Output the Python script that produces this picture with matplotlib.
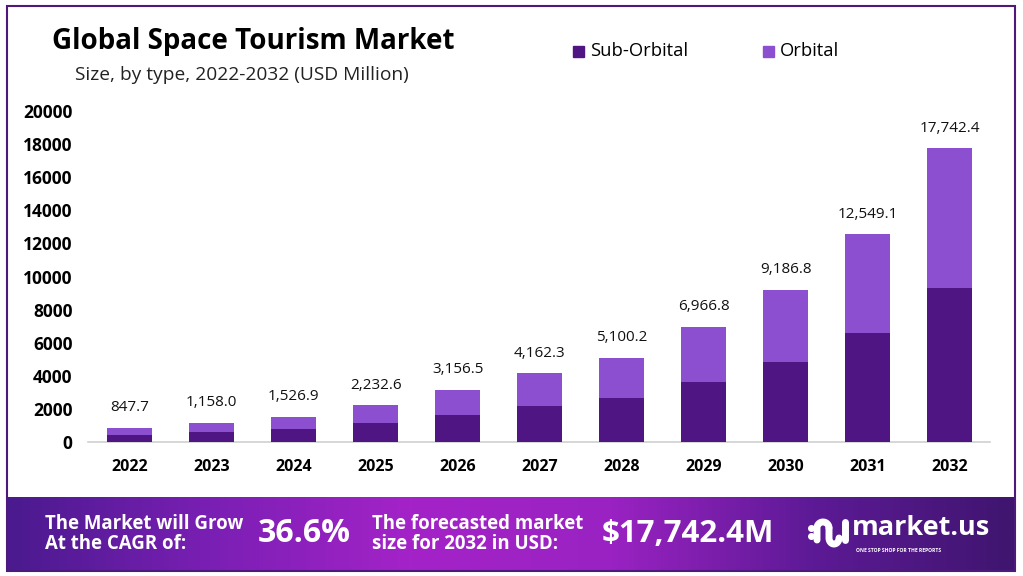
import numpy as np
import matplotlib.pyplot as plt
from matplotlib.patches import Rectangle
from matplotlib.colors import LinearSegmentedColormap

years = ["2022", "2023", "2024", "2025", "2026", "2027", "2028", "2029", "2030", "2031", "2032"]
totals = [847.7, 1158.0, 1526.9, 2232.6, 3156.5, 4162.3, 5100.2, 6966.8, 9186.8, 12549.1, 17742.4]
sub_orbital = [440, 605, 785, 1150, 1650, 2155, 2660, 3605, 4815, 6595, 9320]
orbital = [t - s for t, s in zip(totals, sub_orbital)]
yticks = [0, 2000, 4000, 6000, 8000, 10000, 12000, 14000, 16000, 18000, 20000]

c_sub = "#4e1583"
c_orb = "#8c4fd0"
W, H = 1023, 576

fig = plt.figure(figsize=(10.23, 5.76), dpi=100)
fig.patch.set_facecolor("white")

# outer frame
fig.add_artist(Rectangle((7 / W, 1 - 571 / H), 1008 / W, 565 / H, transform=fig.transFigure,
                         fill=False, edgecolor="#4b1a7a", linewidth=1.5))

ax = fig.add_axes([88 / W, 1 - 442 / H, 902 / W, 331 / H])
x = np.arange(len(years))
ax.bar(x, sub_orbital, width=0.55, color=c_sub, label="Sub-Orbital", zorder=3)
ax.bar(x, orbital, width=0.55, bottom=sub_orbital, color=c_orb, label="Orbital", zorder=3)
for xi, t in zip(x, totals):
    ax.annotate(f"{t:,.1f}", (xi, t), xytext=(0, 9), textcoords="offset points",
                ha="center", va="bottom", fontsize=11, family="Open Sans", color="#111111")
ax.set_xlim(-0.51, 10.49)
ax.set_ylim(0, 20000)
ax.set_yticks(yticks)
ax.set_yticklabels([str(v) for v in yticks], fontsize=12.5, fontweight="bold", family="Open Sans")
ax.set_xticks(x)
ax.set_xticklabels(years, fontsize=11.5, fontweight="bold", family="Open Sans")
ax.tick_params(length=0)
ax.tick_params(axis="x", pad=12)
ax.tick_params(axis="y", pad=11)
for s in ["top", "right", "left"]:
    ax.spines[s].set_visible(False)
ax.spines["bottom"].set_color("#d0d0d0")
ax.spines["bottom"].set_linewidth(1.2)

# titles
fig.text(52 / W, 1 - 42 / H, "Global Space Tourism Market", fontsize=20, fontweight="bold",
         family="Open Sans", va="center", ha="left")
fig.text(75 / W, 1 - 75 / H, "Size, by type, 2022-2032 (USD Million)", fontsize=13.8,
         family="Open Sans", va="center", ha="left", color="#222222")

# legend
for lx, tx, col, lab in [(573, 590, c_sub, "Sub-Orbital"), (763, 780, c_orb, "Orbital")]:
    fig.add_artist(Rectangle((lx / W, 1 - 57 / H), 11 / W, 11 / H, transform=fig.transFigure,
                             color=col))
    fig.text(tx / W, 1 - 51 / H, lab, fontsize=13.2, family="Open Sans", va="center", ha="left")

# banner with gradient
bax = fig.add_axes([7 / W, 1 - 571 / H, 1008 / W, 74 / H])
cmap = LinearSegmentedColormap.from_list("b", ["#4a1a8e", "#7a1fb4", "#a423c8", "#9a22c2", "#5d1a96", "#3f156f"])
grad = np.linspace(0, 1, 512).reshape(1, -1)
bax.imshow(grad, aspect="auto", cmap=cmap, extent=[0, 1, 0, 1])
bax.set_xlim(0, 1)
bax.set_ylim(0, 1)
bax.axis("off")

def bx(px):
    return (px - 7) / 1008

bax.text(bx(45), 0.5, "The Market will Grow\nAt the CAGR of:", color="white", fontsize=13.4,
         fontweight="bold", family="Open Sans", va="center", ha="left", linespacing=1.0)
bax.text(bx(258), 0.5, "36.6%", color="white", fontsize=23, fontweight="bold",
         family="Open Sans", va="center", ha="left")
bax.text(bx(372), 0.5, "The forecasted market\nsize for 2032 in USD:", color="white", fontsize=13.4,
         fontweight="bold", family="Open Sans", va="center", ha="left", linespacing=1.0)
bax.text(bx(602), 0.5, "$17,742.4M", color="white", fontsize=22.5, fontweight="bold",
         family="Open Sans", va="center", ha="left")
bax.text(bx(852), 0.58, "market.us", color="white", fontsize=19.5, fontweight="bold",
         family="Open Sans", va="center", ha="left")
bax.text(bx(856), 0.28, "ONE STOP SHOP FOR THE REPORTS", color="white", fontsize=3.6,
         fontweight="bold", family="Open Sans", va="center", ha="left")

# logo mark, drawn in pixel units
lax = fig.add_axes([805 / W, 1 - 550 / H, 46 / W, 36 / H])
lax.set_xlim(805, 851)
lax.set_ylim(550, 514)
lax.axis("off")
lax.plot([811, 811], [528, 536], ls="none", marker="o", ms=4, color="white")
t = np.linspace(np.pi, 0, 40)
lax.plot(np.r_[817, 817 + 6 + 6 * np.cos(t)], np.r_[540, 528 - 6 * np.sin(t)],
         color="white", lw=5, solid_capstyle="round")
t2 = np.linspace(np.pi, 2 * np.pi, 40)
lax.plot(np.r_[829, 829 + 5 + 5 * np.cos(t2)[::-1] * -1], np.r_[528, 538 - 6 * np.sin(t2)],
         color="white", lw=5, solid_capstyle="round")
lax.plot([845, 845], [522, 540], color="white", lw=5, solid_capstyle="round")

fig.savefig("out.png", dpi=100)
